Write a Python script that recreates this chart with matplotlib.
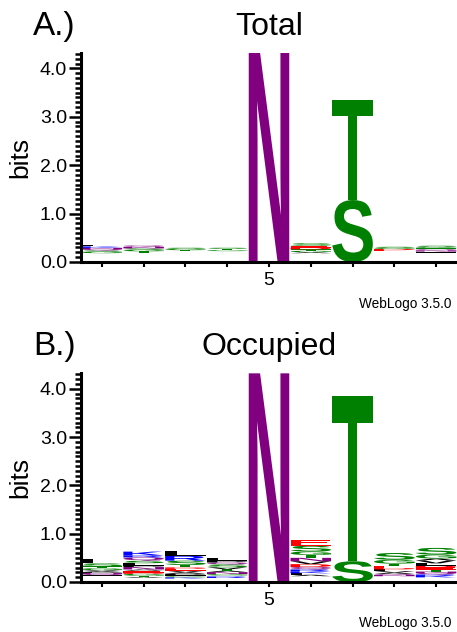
import matplotlib
matplotlib.use("Agg")
import matplotlib.pyplot as plt
from matplotlib.textpath import TextPath
from matplotlib.patches import PathPatch
from matplotlib.font_manager import FontProperties
from matplotlib.transforms import Affine2D
from matplotlib.ticker import MultipleLocator

# ---------------- data ----------------
positions = [1, 2, 3, 4, 5, 6, 7, 8, 9]
xtick_labels = ["", "", "", "", "5", "", "", "", ""]
ytick_values = [0, 1, 2, 3, 4]
ytick_labels = ["0.0", "1.0", "2.0", "3.0", "4.0"]

# letters stacked bottom -> top, one string per position, with heights in bits
total_letters = [
    "CWMHYFIPVTDERAGSQNKL",
    "CWMHYFIPVDEKRATGSNQ",
    "CWMHYFIPVDEKRAQNTGS",
    "CWMHYFIPVDEKRAQNGTS",
    "N",
    "CWMHYFIPVKRQNAGTDES",
    "ST",
    "CWMHYFIPVKRQNATLEDGS",
    "CWMHYFIPVKRDEALNQTGS",
]
total_heights = [
    [0.013] * 14 + [0.03, 0.025, 0.03, 0.025, 0.03, 0.03],
    [0.014] * 14 + [0.025, 0.03, 0.03, 0.03, 0.03],
    [0.014] * 16 + [0.02, 0.025, 0.025],
    [0.014] * 16 + [0.02, 0.025, 0.025],
    [4.32],
    [0.014] * 13 + [0.02, 0.03, 0.03, 0.035, 0.04, 0.05],
    [1.28, 2.06],
    [0.014] * 16 + [0.02, 0.025, 0.02, 0.025],
    [0.014] * 14 + [0.02, 0.025, 0.02, 0.02, 0.025, 0.03],
]

occupied_letters = [
    "CWMHYFDEKRIQNPAVGTSL",
    "CWMHYFIVTGDEANPLSQRK",
    "CWMHYFKGIPAVEDTSRL",
    "CWMHYFIREGNATVSQPL",
    "N",
    "CWMHFYIPALKRQDVNTGSE",
    "ST",
    "CWMHFYIPKRNQAVLDETGS",
    "CWMHFYIPKRQNTEDLVAGS",
]
occupied_heights = [
    [0.012] * 10 + [0.02, 0.025, 0.02, 0.02, 0.02, 0.02, 0.04, 0.04, 0.06, 0.09],
    [0.012] * 7 + [0.02, 0.025, 0.04, 0.025, 0.04, 0.025, 0.05, 0.03, 0.05, 0.05, 0.07, 0.04, 0.08],
    [0.012] * 6 + [0.025, 0.02, 0.025, 0.03, 0.03, 0.03, 0.04, 0.03, 0.05, 0.09, 0.1, 0.1],
    [0.012] * 7 + [0.03, 0.02, 0.03, 0.04, 0.03, 0.03, 0.04, 0.06, 0.04, 0.04, 0.06],
    [4.32],
    [0.015] * 8 + [0.03, 0.03, 0.04, 0.04, 0.05, 0.06, 0.06, 0.07, 0.06, 0.07, 0.12, 0.12],
    [0.43, 3.42],
    [0.012] * 10 + [0.025, 0.02, 0.03, 0.03, 0.035, 0.03, 0.04, 0.05, 0.08, 0.14],
    [0.012] * 8 + [0.03, 0.03, 0.03, 0.03, 0.04, 0.05, 0.03, 0.05, 0.06, 0.04, 0.08, 0.14],
]

titles = ["Total", "Occupied"]
panel_tags = ["A.)", "B.)"]
version_text = "WebLogo 3.5.0"

# WebLogo "chemistry" colour scheme
color_groups = {
    "GSTYC": "#008000",
    "QN": "#800080",
    "KRH": "#0000ff",
    "DE": "#ff0000",
    "AVLIPWFM": "#000000",
}
letter_color = {ch: col for grp, col in color_groups.items() for ch in grp}

# ---------------- drawing ----------------
W, H = 457, 632
fig = plt.figure(figsize=(W / 100, H / 100), dpi=100)
plt.rcParams["font.family"] = ["Liberation Sans", "DejaVu Sans"]

letter_font = FontProperties(family="Liberation Sans", weight="bold")
_path_cache = {}
MIN_VISIBLE = 0.016  # glyphs thinner than this vanish when rendered


def letter_path(ch):
    if ch not in _path_cache:
        _path_cache[ch] = TextPath((0, 0), ch, size=1, prop=letter_font)
    return _path_cache[ch]


def draw_letter(ax, ch, x, y0, h, width=0.97):
    tp = letter_path(ch)
    bb = tp.get_extents()
    tr = (Affine2D().translate(-bb.x0, -bb.y0)
          .scale(width / bb.width, h / bb.height)
          .translate(x - width / 2, y0))
    ax.add_patch(PathPatch(tr.transform_path(tp), fc=letter_color[ch],
                           ec="none", lw=0))


def draw_logo(ax, letters, heights):
    for x, lets, hs in zip(positions, letters, heights):
        y = 0.0
        for ch, h in zip(lets, hs):
            if h >= MIN_VISIBLE:
                draw_letter(ax, ch, x, y, h)
            y += h


def px(x, y):
    return x / W, 1 - y / H


panels = [
    (total_letters, total_heights, 262, 48.4, 35, 308),
    (occupied_letters, occupied_heights, 582, 48.3, 355, 627),
]

AX_LEFT = 81
ymax = 4.32
for i, (lets, hs, y0px, ppb, title_y, ver_y) in enumerate(panels):
    bottom = (H - y0px) / H
    height = ymax * ppb / H
    ax = fig.add_axes([AX_LEFT / W, bottom, (W - AX_LEFT) / W, height])
    draw_logo(ax, lets, hs)
    ax.set_xlim(0.5, 9.5)
    ax.set_ylim(0, ymax)
    for s in ["top", "right"]:
        ax.spines[s].set_visible(False)
    for s in ["left", "bottom"]:
        ax.spines[s].set_linewidth(2.2)
    ax.set_xticks(positions)
    ax.set_xticklabels(xtick_labels, fontsize=14)
    ax.set_yticks(ytick_values)
    ax.set_yticklabels(ytick_labels, fontsize=14)
    ax.yaxis.set_minor_locator(MultipleLocator(0.1))
    ax.tick_params(axis="y", which="major", length=9, width=1.8, pad=1)
    ax.tick_params(axis="y", which="minor", length=4.5, width=1.8)
    ax.tick_params(axis="x", which="major", length=3.5, width=1.5, pad=4)
    ax.set_ylabel("bits", fontsize=19)
    ax.yaxis.set_label_coords((32 - AX_LEFT) / (W - AX_LEFT), 0.5)

    fig.text(*px(33, title_y), panel_tags[i], fontsize=24, va="baseline", ha="left")
    fig.text(*px(269, title_y), titles[i], fontsize=23, va="baseline", ha="center")
    fig.text(*px(451, ver_y), version_text, fontsize=9.8, va="baseline", ha="right")

fig.savefig("out.png", dpi=100)
